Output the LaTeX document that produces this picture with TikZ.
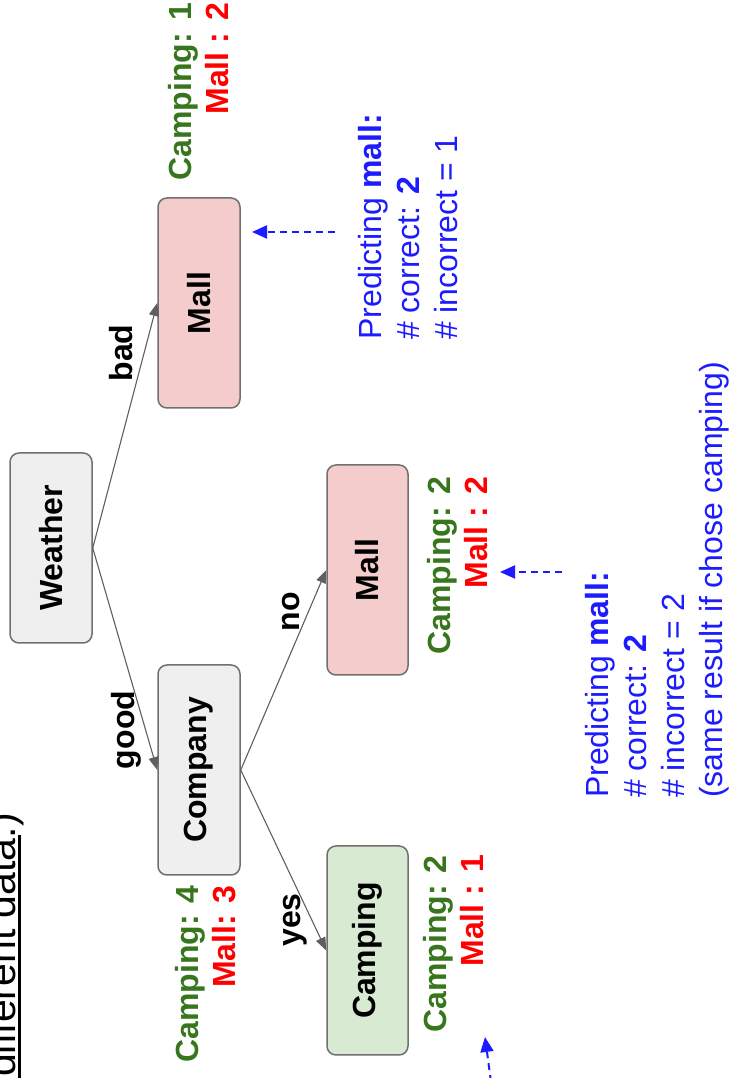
\documentclass[tikz,border=0pt]{standalone}
\usepackage{fontspec}
\usepackage{graphicx}
\setmainfont{Liberation Sans}
\usetikzlibrary{arrows.meta}
\definecolor{boxgray}{HTML}{EFEFEF}
\definecolor{boxpink}{HTML}{F4CCCC}
\definecolor{boxgreen}{HTML}{D9EAD3}
\definecolor{bordergray}{HTML}{707070}
\definecolor{edgegray}{HTML}{5F5F5F}
\definecolor{cgreen}{HTML}{38761D}
\definecolor{cred}{HTML}{FF0000}
\definecolor{cblue}{HTML}{1C1CFF}
\begin{document}
\begin{tikzpicture}[x=1pt,y=1pt,
  treebox/.style={draw=bordergray, line width=1.5pt, rounded corners=9pt, minimum width=82pt, minimum height=210pt, inner sep=0pt, font=\fontsize{32}{37}\selectfont\bfseries},
  edge/.style={draw=edgegray, line width=1.1pt, -{Triangle[length=13pt,width=10pt]}},
  elabel/.style={rotate=90, inner sep=0pt, font=\fontsize{32}{37}\selectfont\bfseries},
  counts/.style={rotate=90, inner sep=0pt, align=right, anchor=north east, font=\fontsize{32}{37}\selectfont\bfseries},
  note/.style={rotate=90, inner sep=0pt, align=left, anchor=north west, text=cblue, font=\fontsize{32}{38}\selectfont},
  hint/.style={draw=cblue, line width=2pt, dash pattern=on 7pt off 5pt, -{Triangle[length=15pt,width=13pt]}}
]
\path[use as bounding box, clip] (0,0) rectangle (732,1078);
\fill[white] (0,0) rectangle (732,1078);

% tree boxes
\node[treebox, fill=boxgray, minimum height=190pt] (weather) at (51,530) {\rotatebox{90}{Weather}};
\node[treebox, fill=boxgray] (company) at (199,308) {\rotatebox{90}{Company}};
\node[treebox, fill=boxpink] (malltop) at (199,775) {\rotatebox{90}{Mall}};
\node[treebox, fill=boxpink, minimum width=81pt] (mallmid) at (367.5,508) {\rotatebox{90}{Mall}};
\node[treebox, fill=boxgreen, minimum width=81pt, minimum height=209pt] (camping) at (367.5,127.5) {\rotatebox{90}{Camping}};

% edges
\draw[edge] (weather.east) -- (malltop.west);
\draw[edge] (weather.east) -- (company.west);
\draw[edge] (company.east) -- (mallmid.west);
\draw[edge] (company.east) -- (camping.west);

% edge labels
\node[elabel] (lbad) at (121,725) {bad};
\node[elabel] (lgood) at (126,348) {good};
\node[elabel] (lno) at (291,466) {no};
\node[elabel] (lyes) at (295,158) {yes};

% counts
\node[counts] (ctop) at (168,1075) {\textcolor{cgreen}{Camping: 1}\\\textcolor{cred}{Mall : 2}};
\node[counts] (ccomp) at (175,193) {\textcolor{cgreen}{Camping: 4}\\\textcolor{cred}{Mall: 3}};
\node[counts] (cmid) at (427,601) {\textcolor{cgreen}{Camping: 2}\\\textcolor{cred}{Mall : 2}};
\node[counts] (ccamp) at (423,223) {\textcolor{cgreen}{Camping: 2}\\\textcolor{cred}{Mall : 1}};

% notes
\node[note] (note1) at (358,738) {Predicting \textbf{mall:}\\\# correct: \textbf{2}\\\# incorrect = 1};
\node[note] (note2) at (585,280) {Predicting \textbf{mall:}\\\# correct: \textbf{2}\\\# incorrect = 2\\(same result if chose camping)};

% hint arrows
\coordinate (h1s) at (335,846);
\coordinate (h1e) at (252,846);
\draw[hint] (h1s) -- (h1e);
\coordinate (h2s) at (562,506);
\coordinate (h2e) at (500,506);
\draw[hint] (h2s) -- (h2e);
\coordinate (h3s) at (491,-4);
\coordinate (h3e) at (485,41);
\draw[hint] (h3s) -- (h3e);

% cut-off heading text
\node[rotate=90, inner sep=0pt, anchor=base east, font=\fontsize{41}{48}\selectfont] (head) at (15,265) {different data.)};
\coordinate (ul1) at (19.5,-2);
\coordinate (ul2) at (19.5,243);
\draw[line width=3pt] (ul1) -- (ul2);
\end{tikzpicture}
\end{document}
